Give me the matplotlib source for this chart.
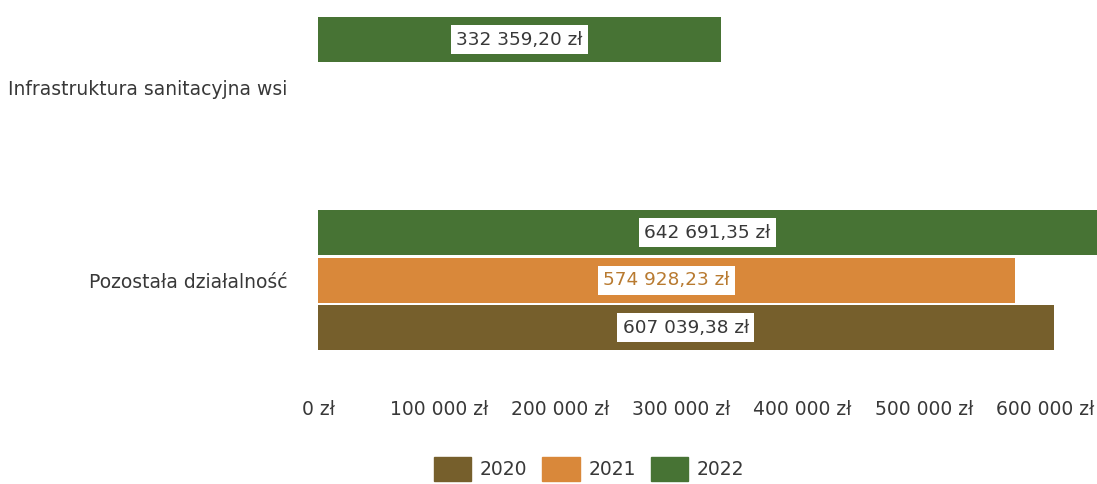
import matplotlib
matplotlib.use("Agg")
import matplotlib.pyplot as plt
from matplotlib.patches import Patch
from matplotlib.ticker import FuncFormatter

categories = ["Infrastruktura sanitacyjna wsi", "Pozostała działalność"]
years = ["2020", "2021", "2022"]
v2020 = [0, 607039.38]
v2021 = [0, 574928.23]
v2022 = [332359.20, 642691.35]
ticks = [0, 100000, 200000, 300000, 400000, 500000, 600000]

colors = {"2020": "#765f2c", "2021": "#d9883a", "2022": "#477334"}
label_colors = {"2020": "#383838", "2021": "#b87a30", "2022": "#383838"}

plt.rcParams["font.family"] = ["DejaVu Sans"]


def pln(v, decimals=2):
    s = f"{v:,.{decimals}f}".replace(",", " ").replace(".", ",")
    return f"{s} zł"


fig = plt.figure(figsize=(10.97, 4.84), dpi=100)
ax = fig.add_axes([318 / 1097, 1 - 375 / 484, (1097 - 318) / 1097, 375 / 484])

slot = 0.246
bar_h = 0.233
offsets = {"2022": -slot, "2021": 0.0, "2020": slot}
series = {"2020": v2020, "2021": v2021, "2022": v2022}

for yr in ["2022", "2021", "2020"]:
    for i, val in enumerate(series[yr]):
        if not val:
            continue
        y = i + offsets[yr]
        ax.barh(y, val, height=bar_h, color=colors[yr], linewidth=0)
        ax.text(val / 2, y, pln(val), ha="center", va="center",
                fontsize=13.3, color=label_colors[yr],
                bbox=dict(boxstyle="square,pad=0.3", fc="white", ec="none"))

ax.set_xlim(0, 642930)
ax.set_ylim(1.49, -0.451)
ax.set_xticks(ticks)
ax.xaxis.set_major_formatter(FuncFormatter(lambda v, p: pln(v, 0)))
ax.set_yticks(range(len(categories)))
ax.set_yticklabels(categories)
ax.tick_params(axis="x", length=0, pad=18, labelsize=13.5, labelcolor="#383838")
ax.tick_params(axis="y", length=0, pad=22, labelsize=13.5, labelcolor="#383838")
for sp in ax.spines.values():
    sp.set_visible(False)

handles = [Patch(color=colors[y], label=y) for y in years]
fig.legend(handles=handles, loc="center", bbox_to_anchor=(589 / 1097, 1 - 469 / 484),
           ncol=3, frameon=False, fontsize=13.5, handlelength=2.0, handleheight=1.6,
           handletextpad=0.45, columnspacing=0.8, labelcolor="#383838")

fig.savefig("out.png", dpi=100)
